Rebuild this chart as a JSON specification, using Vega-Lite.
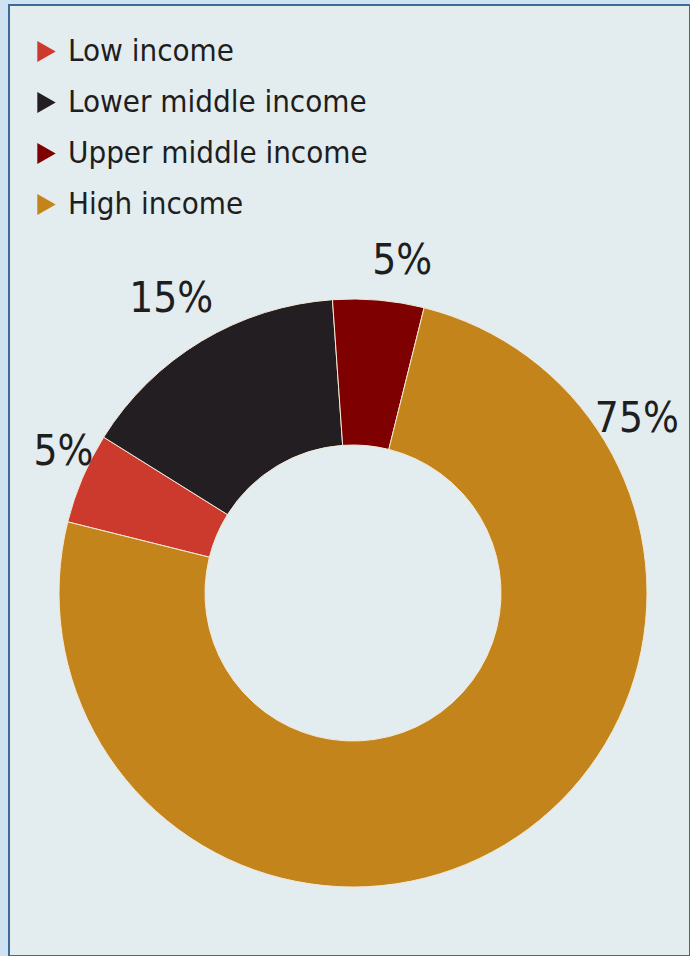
{
  "$schema": "https://vega.github.io/schema/vega-lite/v6.json",
  "width": 681,
  "height": 951,
  "autosize": {"type": "none"},
  "padding": {"left": 9, "top": 5, "right": 0, "bottom": 0},
  "background": "#cfe2f2",
  "view": {"fill": "#e3ecee", "stroke": "#3d6b98", "strokeWidth": 2},
  "data": {
    "values": [
      {"income": "Low income", "share": 0.05},
      {"income": "Lower middle income", "share": 0.15},
      {"income": "Upper middle income", "share": 0.05},
      {"income": "High income", "share": 0.75}
    ]
  },
  "encoding": {
    "theta": {"field": "share", "type": "quantitative", "stack": true, "scale": {"range": [0.2443, 6.5275]}},
    "order": {"field": "income", "sort": "ascending"},
    "color": {
      "field": "income",
      "type": "nominal",
      "scale": {
        "domain": ["Low income", "Lower middle income", "Upper middle income", "High income"],
        "range": ["#cc3a2e", "#231e21", "#7e0000", "#c4841c"]
      },
      "legend": {
        "orient": "none",
        "legendX": 22,
        "legendY": 31,
        "title": null,
        "symbolType": "triangle-right",
        "symbolSize": 450,
        "symbolStrokeWidth": 0,
        "labelFont": "DejaVu Sans Condensed, sans-serif",
        "labelFontSize": 31,
        "labelColor": "#1e1e1e",
        "labelOffset": 6,
        "labelLimit": 0,
        "rowPadding": 19,
        "padding": 0
      }
    }
  },
  "layer": [
    {
      "mark": {
        "type": "arc",
        "outerRadius": 294,
        "innerRadius": 148,
        "x": {"expr": "width/2+3.5"},
        "y": {"expr": "height/2+112.5"},
        "stroke": "#f4ead6",
        "strokeWidth": 1
      }
    },
    {
      "mark": {
        "type": "text",
        "radius": 336,
        "x": {"expr": "width/2+3.5"},
        "y": {"expr": "height/2+112.5"},
        "thetaOffset": {"expr": "datum.income === 'High income' ? -1.58 : datum.income === 'Upper middle income' ? 0.06 : datum.income === 'Low income' ? 0.051 : -0.012"},
        "radiusOffset": {"expr": "datum.income === 'Lower middle income' ? 10 : datum.income === 'Low income' ? -14 : datum.income === 'High income' ? -3 : 0"},
        "font": "DejaVu Sans Condensed, sans-serif",
        "fontSize": 42,
        "align": "center",
        "baseline": "middle"
      },
      "encoding": {
        "text": {"field": "share", "type": "quantitative", "format": ".0%"},
        "color": {"value": "#1e1e1e"}
      }
    }
  ]
}
